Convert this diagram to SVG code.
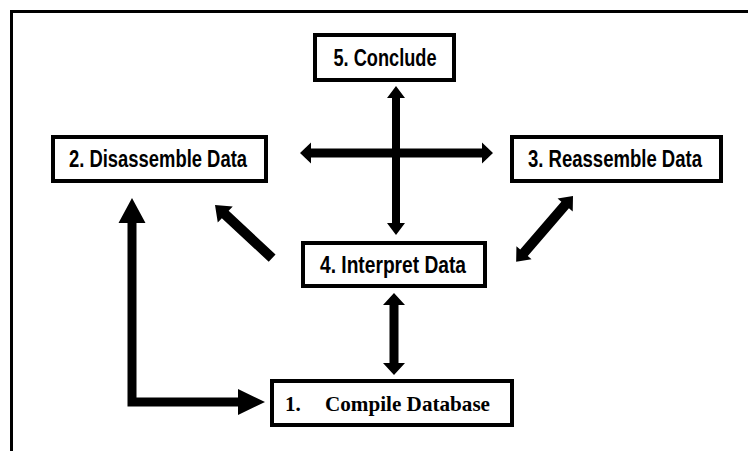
<svg xmlns="http://www.w3.org/2000/svg" width="748" height="451" viewBox="0 0 748 451">
<style>
.box{fill:#fff;stroke:#000;stroke-width:4}
.lbl{font-family:"Liberation Sans Narrow","Liberation Sans",Arial,sans-serif;font-weight:bold;font-size:23px;fill:#000;text-anchor:middle}
.ser{font-family:"Liberation Serif","Times New Roman",serif;font-weight:bold;font-size:21px;fill:#000}
.arr{fill:#000;stroke:none}
</style>
<rect x="0" y="0" width="748" height="451" fill="#fff"/>
<path d="M11.5,451 V11.5 H748" fill="none" stroke="#000" stroke-width="3"/>
<g id="connectors">
<polygon class="arr" points="396,86 405,98 400,98 400,223 405,223 396,235 387,223 392,223 392,98 387,98"/>
<polygon class="arr" points="300,153 311,142.5 311,148.5 482,148.5 482,142.5 493,153 482,163.5 482,157.5 311,157.5 311,163.5"/>
<polygon class="arr" transform="translate(215,205) rotate(42.9)" points="0,0 14,-11 14,-5 78,-5 78,5 14,5 14,11"/>
<polygon class="arr" transform="translate(573,196) rotate(130.8)" points="0,0 12,-10 12,-5 75,-5 75,-10 87,0 75,10 75,5 12,5 12,10"/>
<polygon class="arr" points="394,293 405,305 398.5,305 398.5,363 405,363 394,375 383,363 389.5,363 389.5,305 383,305"/>
<polygon class="arr" points="132,198 145.5,223 136.5,223 136.5,397.5 238,397.5 238,389 265,402 238,415 238,406.5 127.5,406.5 127.5,223 118.5,223"/>
</g>
<g id="node5">
<rect class="box" x="315" y="35" width="139" height="45"/>
<text class="lbl" x="385" y="66" textLength="103" lengthAdjust="spacingAndGlyphs">5. Conclude</text>
</g>
<g id="node2">
<rect class="box" x="53" y="137" width="213" height="44"/>
<text class="lbl" x="158" y="167" textLength="178" lengthAdjust="spacingAndGlyphs">2. Disassemble Data</text>
</g>
<g id="node3">
<rect class="box" x="512" y="137" width="209" height="44"/>
<text class="lbl" x="615" y="167" textLength="174" lengthAdjust="spacingAndGlyphs">3. Reassemble Data</text>
</g>
<g id="node4">
<rect class="box" x="303" y="243" width="182" height="43"/>
<text class="lbl" x="393" y="273" textLength="146" lengthAdjust="spacingAndGlyphs">4. Interpret Data</text>
</g>
<g id="node1">
<rect class="box" x="272" y="381" width="240" height="44"/>
<text class="ser" x="285" y="411">1.</text>
<text class="ser" x="325" y="411" textLength="165" lengthAdjust="spacingAndGlyphs">Compile Database</text>
</g>
</svg>
